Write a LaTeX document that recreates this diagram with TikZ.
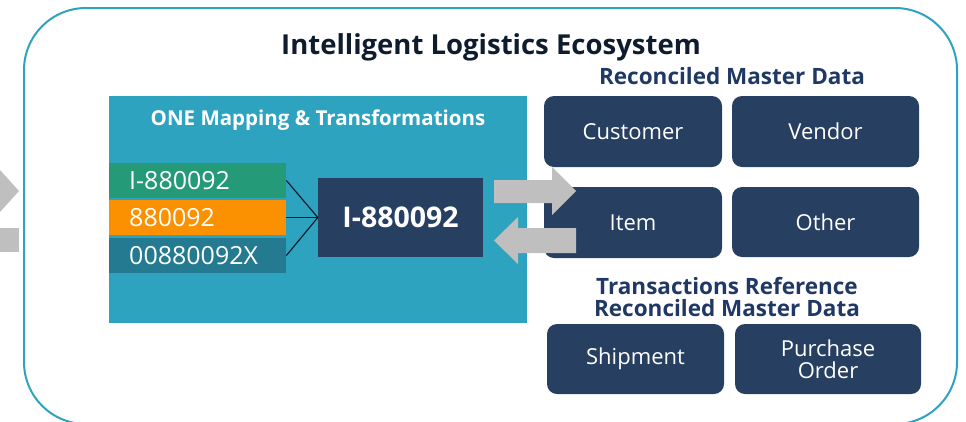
\documentclass[tikz,border=0pt]{standalone}
\usepackage{fontspec}
\setmainfont{Open Sans}
\usepackage{tikz}

\definecolor{ringteal}{HTML}{2DA3C0}
\definecolor{mapteal}{HTML}{2DA3C0}
\definecolor{idgreen}{HTML}{249A78}
\definecolor{idorange}{HTML}{FB9100}
\definecolor{iddeep}{HTML}{237A91}
\definecolor{boxnavy}{HTML}{273F60}
\definecolor{headnavy}{HTML}{1F3864}
\definecolor{titleink}{HTML}{0F1C2E}
\definecolor{arrowgray}{HTML}{BFBFBF}

\tikzset{
  idbar/.style={anchor=west,fill=#1,text=white,minimum width=177pt,minimum height=35pt,
    inner xsep=0pt,text width=137pt,align=left,font=\fontsize{25}{27}\selectfont},
  masterbox/.style={fill=boxnavy,text=white,rounded corners=10pt,inner sep=0pt,
    align=center,font=\fontsize{22}{22}\selectfont},
  heading/.style={text=headnavy,align=center,font=\bfseries\fontsize{22.5}{22}\selectfont}
}

\begin{document}
\begin{tikzpicture}[x=1pt,y=-1pt]
\useasboundingbox (0,0) rectangle (966,421);
\clip (0,0) rectangle (966,421);
\draw[ringteal,line width=2pt,rounded corners=62pt] (24,8) rectangle (957,424);
\fill[arrowgray] (0,170) -- (19,191) -- (0,212) -- cycle;
\fill[arrowgray] (0,228) rectangle (19,252);
\node[text=titleink,font=\bfseries\fontsize{27.5}{28}\selectfont] (title) at (491,47) {Intelligent Logistics Ecosystem};

\node[fill=mapteal,minimum width=418pt,minimum height=227pt,inner sep=0pt] (mapping) at (318,209.5) {};
\node[text=white,font=\bfseries\fontsize{20.5}{22}\selectfont] (maptitle) at (318,120) {ONE Mapping \& Transformations};
\node[idbar=idgreen] (idA) at (109,180.5) {I-880092};
\node[idbar=idorange] (idB) at (109,217.5) {880092};
\node[idbar=iddeep] (idC) at (109,255.5) {00880092X};
\node[fill=boxnavy,text=white,minimum width=165pt,minimum height=79pt,inner sep=0pt,
  font=\bfseries\fontsize{28.5}{29}\selectfont] (golden) at (400.5,217.5) {I-880092};
\draw[titleink,line width=1.2pt] (idA.east) -- (golden.west);
\draw[titleink,line width=1.2pt] (idB.east) -- (golden.west);
\draw[titleink,line width=1.2pt] (idC.east) -- (golden.west);

\node[heading] (masterhead) at (732,76) {Reconciled Master Data};
\node[masterbox,minimum width=178pt,minimum height=71pt] (customer) at (633,131.5) {Customer};
\node[masterbox,minimum width=187pt,minimum height=71pt] (vendor) at (825.5,131.5) {Vendor};
\node[masterbox,minimum width=178pt,minimum height=71pt] (item) at (633,222.5) {Item};
\node[masterbox,minimum width=187pt,minimum height=70pt] (other) at (825.5,222) {Other};

\fill[arrowgray] (494,180) -- (552,180) -- (552,167) -- (576,191) -- (552,215) -- (552,203) -- (494,203) -- cycle;
\fill[arrowgray] (576,228) -- (518,228) -- (518,217) -- (494,240.5) -- (518,264) -- (518,253) -- (576,253) -- cycle;

\node[heading] (transhead) at (727,297) {Transactions Reference\\Reconciled Master Data};
\node[masterbox,minimum width=177pt,minimum height=70pt] (shipment) at (635.5,359) {Shipment};
\node[masterbox,minimum width=186pt,minimum height=70pt] (purchase) at (828,359) {Purchase\\Order};
\end{tikzpicture}
\end{document}
